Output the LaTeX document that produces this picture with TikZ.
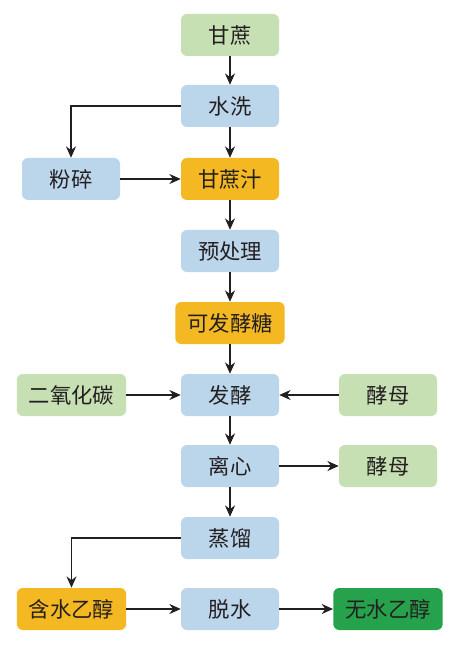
\documentclass[tikz,border=0pt]{standalone}
\usepackage{fontspec}
\setmainfont{Noto Sans CJK SC}
\usetikzlibrary{arrows.meta}
\definecolor{lgreen}{HTML}{C6DFB3}
\definecolor{lblue}{HTML}{BBD5EB}
\definecolor{orng}{HTML}{F4B922}
\definecolor{dgreen}{HTML}{25A24B}
\definecolor{txt}{HTML}{231F20}
\begin{document}
\begin{tikzpicture}[x=0.75pt,y=-0.75pt,
  box/.style={rounded corners=4.5pt,minimum height=31.5pt,inner sep=0pt,text=txt,font=\fontsize{16pt}{16pt}\selectfont},
  nb/.style={box,minimum width=73.5pt},
  wb/.style={box,minimum width=82pt},
  arr/.style={draw=txt,line width=1.2pt,-{Stealth[length=8.5pt,width=7.5pt]}}]
\useasboundingbox (0,0) rectangle (459,648);
\node[nb,fill=lgreen] (gz) at (230,35) {甘蔗};
\node[nb,fill=lblue] (sx) at (230,106) {水洗};
\node[nb,fill=lblue] (fs) at (71,179) {粉碎};
\node[nb,fill=orng] (gzz) at (230,179) {甘蔗汁};
\node[nb,fill=lblue] (ycl) at (230,251) {预处理};
\node[wb,fill=orng] (kfjt) at (230,323) {可发酵糖};
\node[wb,fill=lgreen] (co2) at (71.5,395) {二氧化碳};
\node[nb,fill=lblue] (fj) at (230,395) {发酵};
\node[nb,fill=lgreen] (jm1) at (388,395) {酵母};
\node[nb,fill=lblue] (lx) at (230,466) {离心};
\node[nb,fill=lgreen] (jm2) at (388,466) {酵母};
\node[nb,fill=lblue] (zl) at (230,538) {蒸馏};
\node[wb,fill=orng] (hs) at (71.5,609) {含水乙醇};
\node[nb,fill=lblue] (ts) at (230,609) {脱水};
\node[wb,fill=dgreen] (ws) at (388,609) {无水乙醇};
\draw[arr] (gz) -- (sx);
\draw[arr] (sx.west) -| (fs.north);
\draw[arr] (sx) -- (gzz);
\draw[arr] (fs) -- (gzz);
\draw[arr] (gzz) -- (ycl);
\draw[arr] (ycl) -- (kfjt);
\draw[arr] (kfjt) -- (fj);
\draw[arr] (co2) -- (fj);
\draw[arr] (jm1) -- (fj);
\draw[arr] (fj) -- (lx);
\draw[arr] (lx) -- (jm2);
\draw[arr] (lx) -- (zl);
\draw[arr] (zl.west) -| (hs.north);
\draw[arr] (hs) -- (ts);
\draw[arr] (ts) -- (ws);
\end{tikzpicture}
\end{document}
